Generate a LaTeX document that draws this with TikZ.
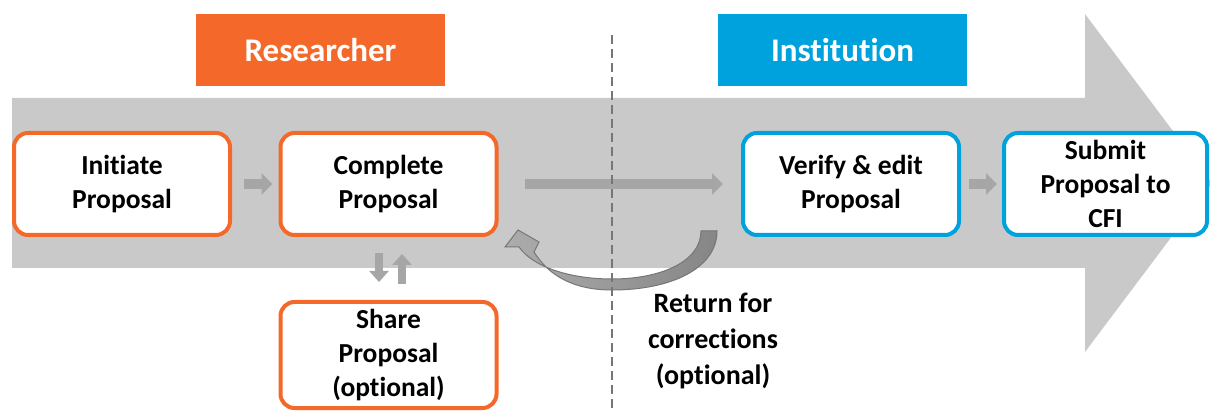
\documentclass[tikz,border=0pt]{standalone}
\usepackage{fontspec}
\setmainfont{Carlito}[Ligatures={NoCommon,NoContextual}]
\usetikzlibrary{arrows.meta}
\definecolor{resorange}{HTML}{F4692A}
\definecolor{instblue}{HTML}{00A2DE}
\definecolor{bodygray}{HTML}{C9C9C9}
\definecolor{flowgray}{HTML}{A6A6A6}
\definecolor{dashgray}{HTML}{767676}
\begin{document}
\begin{tikzpicture}[x=1pt, y=-1pt,
    procbox/.style={draw, line width=4pt, rounded corners=14pt, fill=white, minimum width=216pt, minimum height=102pt, align=center, inner sep=0pt, font=\fontsize{27.5}{34}\selectfont\bfseries},
    headbox/.style={minimum width=249pt, minimum height=72pt, inner sep=0pt, text=white, font=\fontsize{33}{36}\selectfont\bfseries},
    flowarrow/.style={draw=flowgray, line width=10pt, -{Triangle[width=21pt, length=11pt]}},
    swaparrow/.style={draw=flowgray, line width=8pt, -{Triangle[width=19pt, length=11pt]}}]
  \useasboundingbox (0,0) rectangle (1210,411);
  \fill[bodygray] plot coordinates {(12,98) (1085,98) (1085,14) (1212,183) (1085,352) (1085,268) (12,268)} -- cycle;
  \node[headbox, fill=resorange] (research) at (320.5,50) {Researcher};
  \node[headbox, fill=instblue] (inst) at (842.5,50) {Institution};
  \node[procbox, draw=resorange] (init) at (122,184) {Initiate\\Proposal};
  \node[procbox, draw=resorange] (comp) at (388.5,184) {Complete\\Proposal};
  \node[procbox, draw=resorange, minimum height=106pt] (share) at (388.5,355) {Share\\Proposal\\(optional)};
  \node[procbox, draw=instblue] (verify) at (851,184) {Verify \& edit\\Proposal};
  \node[procbox, draw=instblue, minimum width=203pt] (submit) at (1105.5,184) {Submit\\Proposal to\\CFI};
  \draw[flowarrow] ([xshift=12pt]init.east) -- ([xshift=-6pt]comp.west);
  \draw[flowarrow] ([xshift=26pt]comp.east) -- ([xshift=-18pt]verify.west);
  \draw[flowarrow] ([xshift=8pt]verify.east) -- ([xshift=-5pt]submit.west);
  \draw[swaparrow] ([xshift=-9.5pt, yshift=-16pt]comp.south) -- ([xshift=-9.5pt, yshift=18pt]share.north);
  \draw[swaparrow] ([xshift=13.5pt, yshift=16pt]share.north) -- ([xshift=13.5pt, yshift=-17pt]comp.south);
  \shade[left color=gray!65, right color=gray!95, draw=dashgray, line width=1pt]
    (717,231) .. controls (717,268) and (672,290) .. (612,290)
    .. controls (574,290) and (549,276) .. (534,252)
    -- (539,242) -- (518,230) -- (505,247) -- (519,247)
    .. controls (534,268) and (572,279) .. (612,279)
    .. controls (660,279) and (701,262) .. (701,231) -- cycle;
  \draw[dashgray, line width=2.5pt, dash pattern=on 9pt off 5pt] (612,35) -- (612,411);
  \node[align=center, inner sep=0pt, font=\fontsize{28}{36}\selectfont\bfseries] (retlabel) at (713,341) {Return for\\corrections\\(optional)};
\end{tikzpicture}
\end{document}
